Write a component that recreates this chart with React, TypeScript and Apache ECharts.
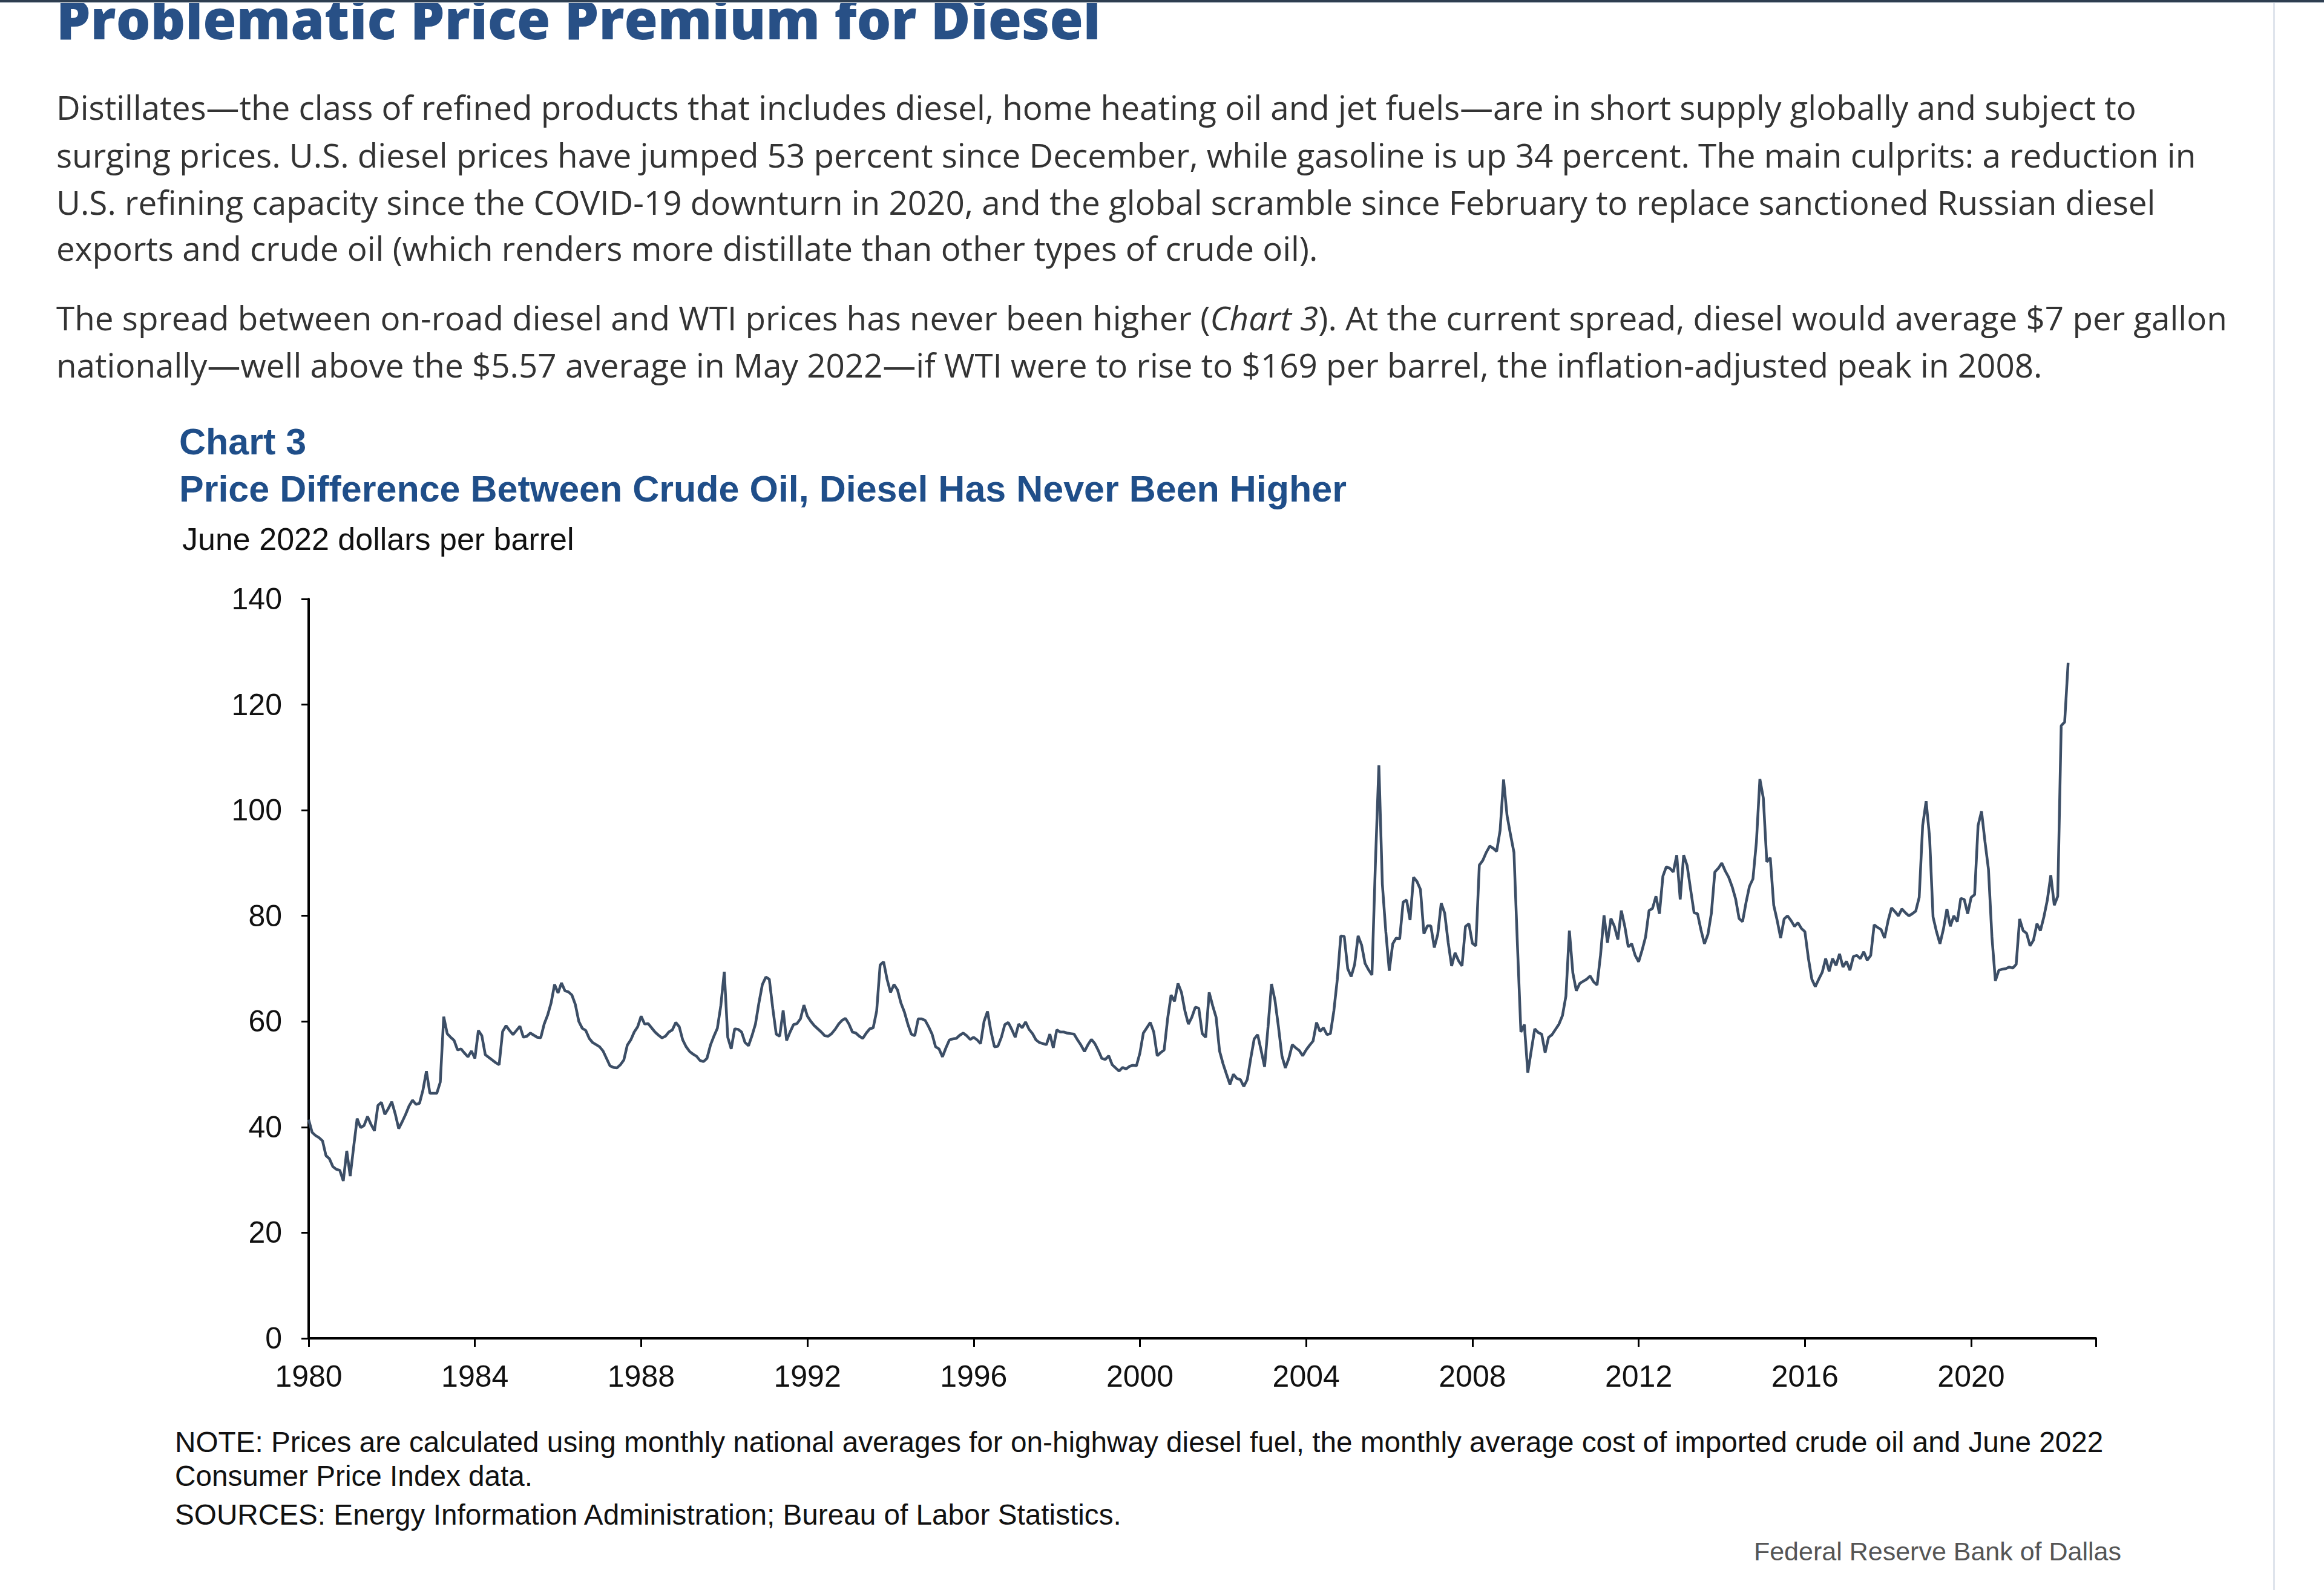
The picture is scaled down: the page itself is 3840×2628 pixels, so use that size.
import React, { useEffect, useRef } from 'react';
import * as echarts from 'echarts';

// Monthly spread, June 2022 dollars per barrel (Jan 1980 – May 2022)
const spread1980s = [
  41.4, 39.0, 38.4, 38.0, 37.4, 34.6, 34.0, 32.5, 32.0, 31.8, 29.8, 35.5,
  30.7, 36.3, 41.6, 39.9, 40.3, 42.0, 40.5, 39.3, 44.1, 44.7, 42.4, 43.5,
  44.8, 42.5, 39.7, 41.0, 42.4, 44.0, 45.1, 44.3, 44.5, 47.0, 50.6, 46.4,
  46.4, 46.4, 48.5, 60.9, 57.7, 57.0, 56.4, 54.6, 54.8, 54.0, 53.3, 54.4,
  53.0, 58.3, 57.3, 53.7, 53.2, 52.7, 52.2, 51.8, 58.1, 59.2, 58.3, 57.5,
  58.3, 59.1, 57.0, 57.2, 57.8, 57.4, 57.0, 56.9, 59.5, 61.2, 63.5, 67.0,
  65.4, 67.3, 65.8, 65.6, 65.0, 63.2, 60.0, 58.7, 58.3, 56.8, 56.0, 55.6,
  55.2, 54.4, 53.0, 51.6, 51.3, 51.2, 51.8, 52.7, 55.5, 56.5, 58.0, 59.0,
  61.0, 59.5, 59.6, 58.8, 58.0, 57.4, 56.9, 57.2, 58.0, 58.4, 59.8, 59.0,
  56.5, 55.2, 54.3, 53.8, 53.4, 52.6, 52.4, 53.0, 55.5, 57.2, 58.7, 63.0,
];
const spread1990s = [
  69.4, 57.0, 54.8, 58.6, 58.5, 58.0, 56.0, 55.4, 57.3, 59.5, 63.5, 67.0,
  68.4, 68.0, 62.5, 57.6, 57.2, 62.1, 56.4, 58.0, 59.4, 59.6, 60.5, 63.1,
  61.0, 60.0, 59.2, 58.6, 58.0, 57.3, 57.2, 57.7, 58.5, 59.5, 60.2, 60.6,
  59.5, 58.0, 57.8, 57.2, 56.8, 57.8, 58.6, 58.8, 62.0, 70.7, 71.3, 68.0,
  65.5, 67.0, 66.0, 63.5, 61.8, 59.5, 57.6, 57.3, 60.5, 60.5, 60.2, 59.0,
  57.6, 55.2, 54.8, 53.3, 55.0, 56.5, 56.7, 56.8, 57.4, 57.8, 57.3, 56.6,
  57.0, 56.5, 55.8, 60.0, 61.9, 58.1, 55.2, 55.3, 57.0, 59.4, 59.8, 58.5,
  57.0, 59.5, 58.8, 59.9, 58.5, 57.7, 56.5, 56.0, 55.8, 55.6, 57.6, 55.0,
  58.4, 58.0, 58.0, 57.8, 57.7, 57.6, 56.5, 55.5, 54.3, 55.6, 56.6, 55.8,
  54.5, 53.0, 52.8, 53.5, 51.8, 51.2, 50.6, 51.3, 51.0, 51.5, 51.7, 51.6,
];
const spread2000s = [
  54.0, 57.8, 58.8, 59.8, 58.0, 53.5, 54.1, 54.6, 60.5, 65.0, 63.8, 67.2,
  65.5, 62.0, 59.5, 60.8, 62.7, 62.5, 57.7, 57.0, 65.5, 63.0, 60.8, 54.4,
  52.0, 50.0, 48.1, 50.0, 49.2, 49.0, 47.7, 49.0, 53.0, 56.7, 57.5, 54.5,
  51.4, 59.0, 67.1, 64.0, 59.0, 53.5, 51.2, 53.0, 55.6, 55.0, 54.5, 53.5,
  54.6, 55.5, 56.3, 59.8, 58.1, 58.8, 57.5, 57.7, 62.0, 68.0, 76.2, 76.1,
  70.0, 68.5, 70.8, 76.2, 74.5, 71.0, 69.8, 68.8, 90.0, 108.5, 86.0, 77.0,
  69.6, 74.7, 75.8, 75.6, 82.6, 83.0, 79.2, 87.3, 86.5, 85.0, 76.6, 78.1,
  78.1, 74.0, 76.5, 82.4, 80.5, 75.0, 70.5, 73.0, 71.5, 70.5, 78.0, 78.5,
  74.8, 74.3, 89.6, 90.5, 92.0, 93.2, 92.8, 92.2, 96.2, 105.8, 99.0, 95.4,
  92.0, 74.5, 58.0, 59.4, 50.3, 54.5, 58.6, 57.9, 57.6, 54.1, 57.0, 57.5,
];
const spread2010s = [
  58.5, 59.5, 61.1, 64.8, 77.2, 69.2, 65.8, 67.2, 67.6, 68.0, 68.6, 67.5,
  66.9, 72.6, 80.1, 74.9, 79.5, 78.0, 75.5, 81.0, 78.0, 74.1, 74.7, 72.5,
  71.3, 73.5, 76.0, 81.0, 81.4, 83.7, 80.4, 87.5, 89.3, 89.0, 88.3, 91.5,
  83.1, 91.5, 89.5, 85.0, 80.6, 80.4, 77.3, 74.7, 76.5, 80.5, 88.3, 89.0,
  90.0, 88.5, 87.3, 85.5, 83.2, 79.5, 78.9, 82.5, 85.6, 87.0, 94.0, 105.9,
  102.3, 90.2, 91.0, 82.0, 79.1, 75.8, 79.4, 80.0, 79.1, 78.0, 78.7, 77.6,
  77.0, 72.0, 68.0, 66.6, 68.0, 69.3, 71.9, 69.5, 71.9, 70.6, 72.8, 70.3,
  71.4, 69.7, 72.3, 72.5, 71.9, 73.2, 71.6, 72.5, 78.3, 77.8, 77.4, 75.8,
  79.0, 81.5, 80.8, 80.0, 81.3, 80.6, 80.0, 80.4, 80.9, 83.5, 97.1, 101.7,
  94.9, 79.8, 77.0, 74.7, 77.5, 81.3, 78.0, 80.0, 78.9, 83.3, 83.1, 80.4,
];
const spread2020s = [
  83.5, 84.0, 97.1, 99.8, 94.0, 88.8, 76.0, 67.7, 69.7, 69.9, 70.0, 70.3,
  70.1, 70.8, 79.4, 77.2, 76.7, 74.3, 75.4, 78.5, 77.2, 79.8, 83.0, 87.7,
  82.0, 83.7, 116.0, 116.7, 127.9,
];

const startYear = 1980;
const xMin = 1980;
const xMax = 2023;
const xStep = 4;
const yMin = 0;
const yMax = 140;
const yStep = 20;

const headline = 'Problematic Price Premium for Diesel';
const paragraphLines = [
  'Distillates—the class of refined products that includes diesel, home heating oil and jet fuels—are in short supply globally and subject to',
  'surging prices. U.S. diesel prices have jumped 53 percent since December, while gasoline is up 34 percent. The main culprits: a reduction in',
  'U.S. refining capacity since the COVID-19 downturn in 2020, and the global scramble since February to replace sanctioned Russian diesel',
  'exports and crude oil (which renders more distillate than other types of crude oil).',
  'The spread between on-road diesel and WTI prices has never been higher ({i|Chart 3}). At the current spread, diesel would average $7 per gallon',
  'nationally—well above the $5.57 average in May 2022—if WTI were to rise to $169 per barrel, the inflation-adjusted peak in 2008.',
];
const chartLabel = 'Chart 3';
const chartTitle = 'Price Difference Between Crude Oil, Diesel Has Never Been Higher';
const unitLabel = 'June 2022 dollars per barrel';
const noteLines = [
  'NOTE: Prices are calculated using monthly national averages for on-highway diesel fuel, the monthly average cost of imported crude oil and June 2022',
  'Consumer Price Index data.',
  'SOURCES: Energy Information Administration; Bureau of Labor Statistics.',
];
const creditLine = 'Federal Reserve Bank of Dallas';

export default function App() {
  const ref = useRef<HTMLDivElement>(null);

  useEffect(() => {
    document.body.style.margin = '0';
    const el = ref.current!;
    const chart = echarts.init(el, null, { renderer: 'svg', width: 3840, height: 2628 });

    const values = [...spread1980s, ...spread1990s, ...spread2000s, ...spread2010s, ...spread2020s];
    const seriesData = values.map((v, i) => [startYear + i / 12, v]);

    const paraFont = '"Open Sans", "DejaVu Sans", sans-serif';
    const arial = '"Liberation Sans", Arial, sans-serif';
    const paraY = [176, 255, 333, 409, 524, 602];
    const noteY = [2383, 2439, 2503];
    const paraSize = 54.8;

    const graphics: any[] = [
      { type: 'rect', shape: { x: 0, y: 0, width: 3840, height: 3 }, style: { fill: '#2e3e50' }, z: 10 },
      { type: 'rect', shape: { x: 0, y: 3, width: 3840, height: 2 }, style: { fill: '#aab3bd' }, z: 10 },
      { type: 'rect', shape: { x: 3756, y: 5, width: 3, height: 2623 }, style: { fill: '#dfe4ec' } },
      {
        type: 'text', x: 93, y: 30,
        style: { text: headline, font: `800 89.6px ${paraFont}`, fill: '#285086', textAlign: 'left', textVerticalAlign: 'middle' },
      },
      ...paragraphLines.map((t, i) => ({
        type: 'text', x: 93, y: paraY[i],
        style: {
          text: t, font: `${paraSize}px ${paraFont}`, fill: '#333333', textAlign: 'left', textVerticalAlign: 'middle',
          rich: { i: { fontStyle: 'italic', fontSize: paraSize, fontFamily: paraFont, fill: '#333333' } },
        },
      })),
      {
        type: 'text', x: 296, y: 730,
        style: { text: chartLabel, font: `bold 61px ${arial}`, fill: '#1f4e89', textAlign: 'left', textVerticalAlign: 'middle' },
      },
      {
        type: 'text', x: 296, y: 808,
        style: { text: chartTitle, font: `bold 61px ${arial}`, fill: '#1f4e89', textAlign: 'left', textVerticalAlign: 'middle' },
      },
      {
        type: 'text', x: 301, y: 891,
        style: { text: unitLabel, font: `52px ${arial}`, fill: '#111111', textAlign: 'left', textVerticalAlign: 'middle' },
      },
      ...noteLines.map((t, i) => ({
        type: 'text', x: 289, y: noteY[i],
        style: { text: t, font: `47.7px ${arial}`, fill: '#111111', textAlign: 'left', textVerticalAlign: 'middle' },
      })),
      {
        type: 'text', x: 3505, y: 2564,
        style: { text: creditLine, font: `43px ${arial}`, fill: '#555555', textAlign: 'right', textVerticalAlign: 'middle' },
      },
    ];

    chart.setOption({
      animation: false,
      backgroundColor: '#ffffff',
      grid: { left: 510, top: 990, width: 2953, height: 1222, containLabel: false },
      xAxis: {
        type: 'value', min: xMin, max: xMax, interval: xStep,
        axisLine: { show: true, lineStyle: { color: '#000', width: 4 } },
        axisTick: { show: true, length: 14, lineStyle: { color: '#000', width: 3 } },
        axisLabel: {
          fontSize: 50, fontFamily: arial, color: '#111', margin: 38,
          formatter: (v: number) => (v % xStep === 0 ? String(v) : ''),
        },
        splitLine: { show: false },
      },
      yAxis: {
        type: 'value', min: yMin, max: yMax, interval: yStep,
        axisLine: { show: true, lineStyle: { color: '#000', width: 4 } },
        axisTick: { show: true, length: 12, lineStyle: { color: '#000', width: 3 } },
        axisLabel: { fontSize: 50, fontFamily: arial, color: '#111', margin: 44 },
        splitLine: { show: false },
      },
      series: [
        {
          type: 'line', data: seriesData, showSymbol: false, symbol: 'none',
          lineStyle: { color: '#3c4e66', width: 4.5 },
          silent: true,
        },
      ],
      graphic: graphics,
    });

    return () => chart.dispose();
  }, []);

  return <div ref={ref} style={{ position: 'absolute', left: 0, top: 0, width: 3840, height: 2628, background: '#fff' }} />;
}
